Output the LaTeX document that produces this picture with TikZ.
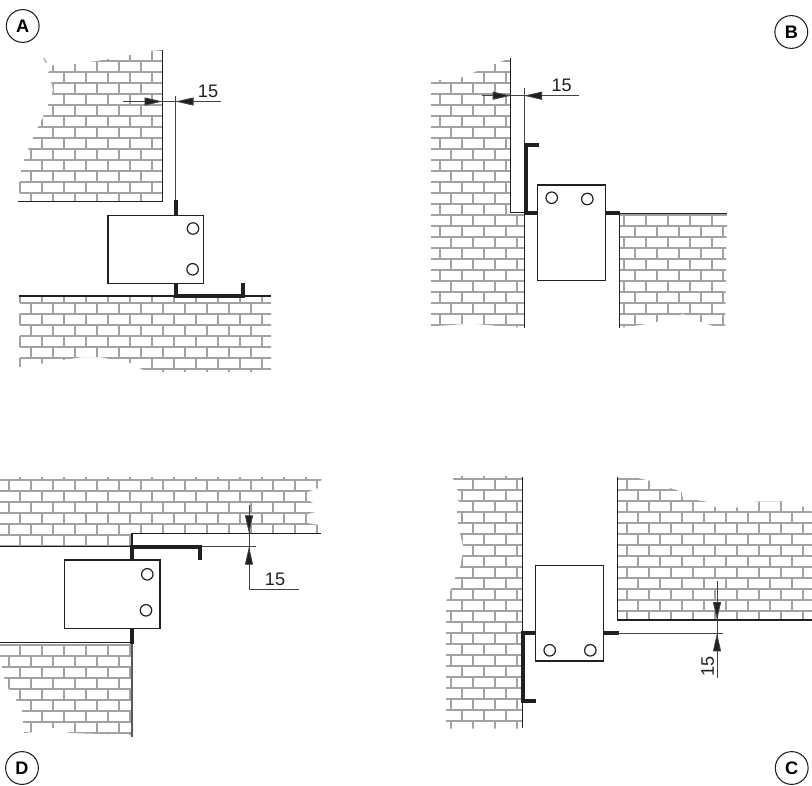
\documentclass[tikz,border=0pt]{standalone}
\usepackage{fontspec}
\setmainfont{Liberation Sans}
\usetikzlibrary{arrows.meta}
\definecolor{brick}{HTML}{A0A2A4}
\definecolor{ink}{HTML}{231F20}
\tikzset{
  brickline/.style={draw=brick,line width=1.6pt},
  wall/.style={draw=ink,line width=0.85pt},
  panel/.style={draw=ink,line width=0.95pt,fill=white},
  hole/.style={draw=ink,line width=0.9pt,fill=white,circle,inner sep=0pt,minimum size=8.6pt},
  bracket/.style={draw=ink,line width=3pt,miter limit=10},
  dimline/.style={draw=ink!85,line width=0.6pt},
  dimtip/.style={draw=ink!85,line width=0.6pt,-{Triangle[length=13.5pt,width=6pt,fill=ink]}},
  dimtext/.style={font=\fontsize{13.6}{14}\selectfont,text=ink,inner sep=0pt},
  badge/.style={draw=ink,line width=0.8pt,circle,minimum size=24.6pt,inner sep=0pt,fill=white,
    font=\fontsize{13.6}{14}\selectfont\bfseries,text=black}
}
% x0, xmax, ya, yb, clip polygon
\newcommand\brickwall[5]{%
  \begin{scope}
    \clip #5;
    \pgfmathtruncatemacro\rowsN{(#4-(#3))/11}%
    \pgfmathtruncatemacro\colsN{(#2-(#1))/11}%
    \foreach \k in {0,...,\rowsN}{\draw[brickline] ({#1},{#3+11*\k}) -- ({#2},{#3+11*\k});}
    \foreach \j in {0,...,\colsN}{%
      \ifodd\j\relax
        \draw[brickline,dash pattern=on 8.25pt off 8.25pt,dash phase=8.25pt] ({#1+11*\j},{#3}) -- ({#1+11*\j},{#4});
      \else
        \draw[brickline,dash pattern=on 8.25pt off 8.25pt] ({#1+11*\j},{#3}) -- ({#1+11*\j},{#4});
      \fi}
  \end{scope}}
\begin{document}
\begin{tikzpicture}[x=0.75pt,y=-0.75pt]
\useasboundingbox (0,0) rectangle (812,785);
\fill[white] (0,0) rectangle (812,785);

% ---------- A ----------
\brickwall{20.3}{163}{50}{204}{(162.5,50)--(150,51)--(125,56)--(97,61)--(75,64)--(53,65)--(48,73)--(53,88)--(52,96)--(48,105)--(43,117)--(38,127)--(33,138)--(28,150)--(24,160)--(21,171)--(19,182)--(18,193)--(18,201.5)--(162.5,201.5)--cycle}
\fill[brick] (43,58) -- (44,58) -- (47,62) -- (46,63) -- cycle;
\draw[wall] (162.5,50) -- (162.5,201.5) -- (18,201.5);
\brickwall{20}{272}{292}{375}{(19,296)--(271,296)--(271,372)--(147,372)--(130,363)--(100,357)--(83,357)--(63,360)--(20,367)--(19,367)--cycle}
\draw[wall] (19,296) -- (271,296);
\draw[dimline] (123,101.5) -- (221,101.5);
\draw[dimline] (175.5,96) -- (175.5,200);
\draw[dimtip] (146,101.5) -- (162.5,101.5);
\draw[dimtip] (195,101.5) -- (175.5,101.5);
\node[dimtext] (dimA) at (208,91.3) {15};
\draw[panel] (108,215.3) rectangle (203.5,283.5);
\node[hole] (holeA1) at (193,228.5) {};
\node[hole] (holeA2) at (192.6,269.3) {};
\draw[bracket] (175.5,200) -- (175.5,215);
\draw[bracket] (175.5,284) -- (175.5,296) -- (243,296) -- (243,283);
\node[badge] (labelA) at (22.7,26) {A};

% ---------- B ----------
\brickwall{429}{526}{61.3}{330}{(510.7,58)--(495,64)--(475,72)--(460,78)--(440,80)--(431,82)--(431,326.5)--(470,323.5)--(524.3,328)--(524.3,213)--(510.7,213)--cycle}
\draw[wall] (510.7,58) -- (510.7,212.7) -- (524.3,212.7) -- (524.3,328);
\brickwall{602.3}{730}{215.3}{330}{(620,213.7)--(727,213.7)--(725,328)--(722,328)--(703,323)--(683,314)--(653,323)--(620,328)--cycle}
\draw[wall] (619.7,328) -- (619.7,213.7) -- (727.3,213.7);
\draw[dimline] (481.7,95.7) -- (579.3,95.7);
\draw[dimline] (524,88.3) -- (524,145);
\draw[dimtip] (490.7,95.7) -- (510.7,95.7);
\draw[dimtip] (543,95.7) -- (524,95.7);
\node[dimtext] (dimB) at (561.7,85.7) {15};
\draw[panel] (537.3,185) rectangle (605.3,280.3);
\node[hole] (holeB1) at (551.7,197.7) {};
\node[hole] (holeB2) at (587.3,199) {};
\draw[bracket] (539,145) -- (525.5,145) -- (525.5,213) -- (537,213);
\draw[bracket] (606,213) -- (620,213);
\node[badge] (labelB) at (791.3,32) {B};

% ---------- D ----------
\brickwall{-24}{330}{469}{546}{(0,477)--(322,477)--(322,478)--(318,488)--(308,492)--(308,500)--(313,503)--(315,512)--(308,514)--(308,523)--(318,525)--(320,533.3)--(132,533.3)--(132,546.7)--(0,546.7)--cycle}
\draw[wall] (0,546.7) -- (132,546.7) -- (132,533.3) -- (321,533.3);
\brickwall{-24}{140}{644.7}{745}{(0,642.7)--(132,642.7)--(132,735)--(70,733)--(50,727)--(33,732)--(24,733)--(23,722)--(22,710)--(15,698)--(8,688)--(4,677)--(2,667)--(0,656)--cycle}
\draw[wall] (0,642.7) -- (132,642.7);
\draw[wall,draw=ink!75] (132,642.7) -- (132,736.7);
\draw[dimline] (199.5,546.7) -- (256,546.7);
\draw[dimline] (249,505) -- (249,589) -- (299.3,589);
\draw[dimtip] (249,513) -- (249,533.3);
\draw[dimtip] (249,566) -- (249,546.7);
\node[dimtext] (dimD) at (275,579.3) {15};
\draw[panel] (64.3,560) rectangle (160,628.3);
\node[hole] (holeD1) at (147.3,574.3) {};
\node[hole] (holeD2) at (146,610.3) {};
\draw[bracket] (132,560) -- (132,547) -- (199.5,547) -- (199.5,560);
\draw[bracket] (132,628.5) -- (132,643.5);
\node[badge] (labelD) at (22,768) {D};

% ---------- C ----------
\brickwall{417.7}{525}{468}{735}{(453,476)--(453,478)--(455,488)--(458,490)--(457,500)--(460,502)--(457,512)--(458,523)--(460,533)--(463,545)--(462,557)--(460,567)--(455,578)--(450,592)--(446,602)--(446,728.5)--(522.3,728.5)--(522.3,476)--cycle}
\draw[wall] (522.3,476.7) -- (522.3,728.3);
\brickwall{417.7}{825}{468}{625}{(617.3,476.7)--(636.7,477.7)--(653,481.7)--(670,488)--(681.7,491.7)--(683,498)--(706.7,501.7)--(711.7,506.7)--(735,508)--(755,501.7)--(783,501.7)--(786.7,505)--(800,505)--(812,511.7)--(812,620)--(617.3,620)--cycle}
\draw[wall] (617.3,476.7) -- (617.3,620) -- (812,620);
\draw[dimline] (618.5,633.3) -- (722.7,633.3);
\draw[dimline] (717,581) -- (717,678.3);
\draw[dimtip] (717,602.7) -- (717,620);
\draw[dimtip] (717,652.3) -- (717,633.3);
\node[dimtext,rotate=90] (dimC) at (707.7,666) {15};
\draw[panel] (535.3,565.7) rectangle (603.3,661);
\node[hole] (holeC1) at (549.7,650.3) {};
\node[hole] (holeC2) at (590.3,650.3) {};
\draw[bracket] (535.7,700.7) -- (522.7,700.7) -- (522.7,633.3) -- (535.3,633.3);
\draw[bracket] (603.3,633.3) -- (618.5,633.3);
\node[badge] (labelC) at (791.7,768) {C};
\end{tikzpicture}
\end{document}
